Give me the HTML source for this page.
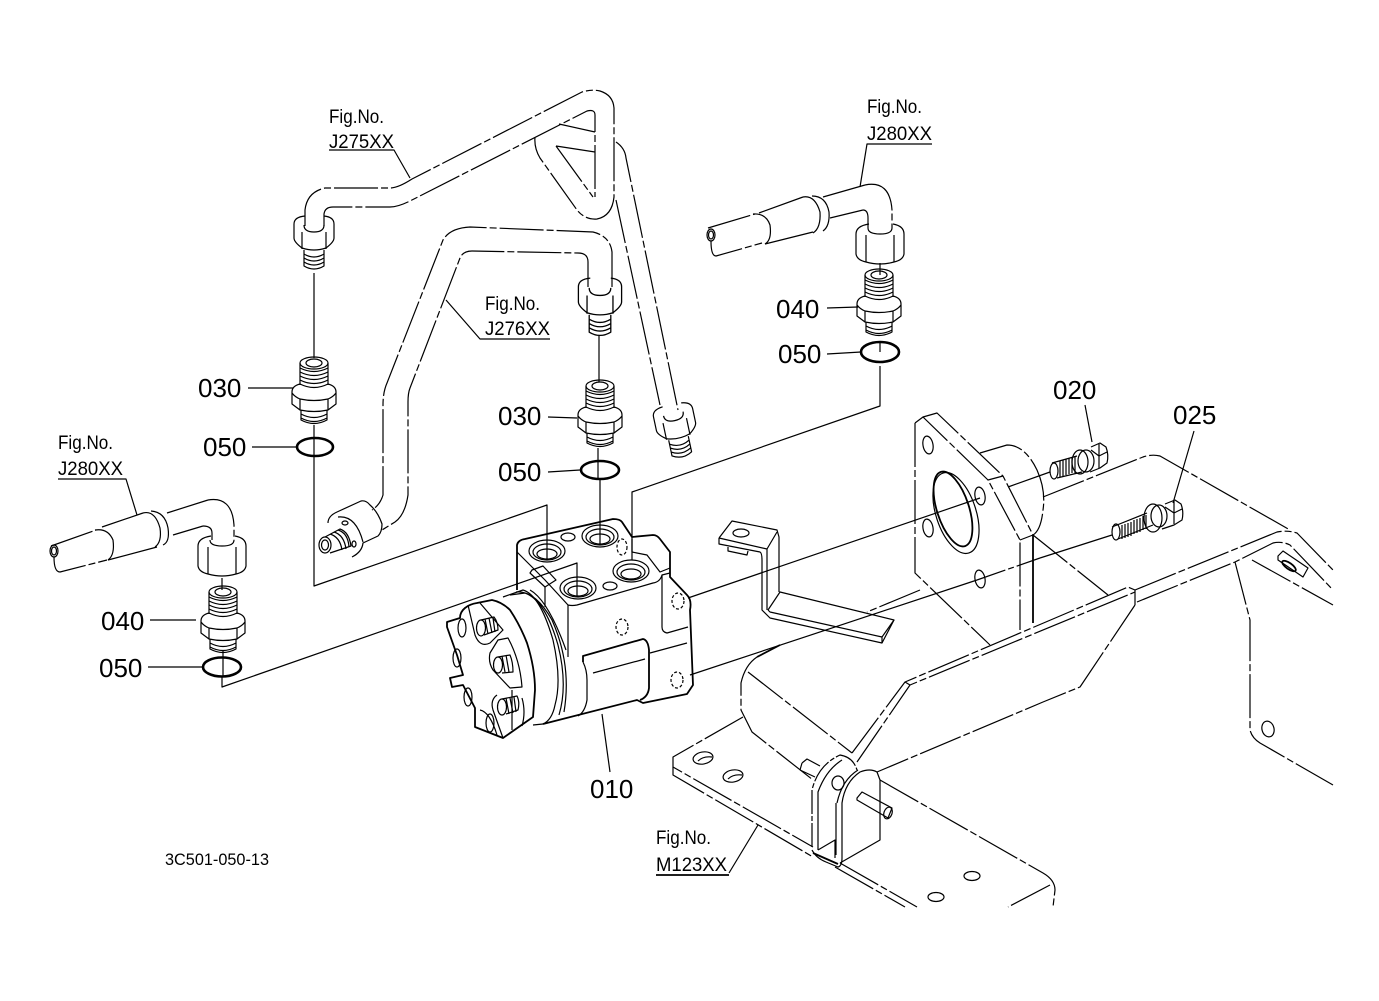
<!DOCTYPE html>
<html><head><meta charset="utf-8"><style>
html,body{margin:0;padding:0;background:#fff;width:1379px;height:1001px;overflow:hidden}
svg{display:block}
path,line,ellipse{fill:none;stroke:#000;stroke-width:1.2;stroke-linejoin:round}
.d{stroke-dasharray:44 3 7 3}
.k{stroke-width:1.8}
.r{stroke-width:2.6}
text{font-family:"Liberation Sans",sans-serif;fill:#000;stroke:none}
.f{font-size:19px}
.n{font-size:26px}
</style></head><body>
<svg width="1379" height="1001" viewBox="0 0 1379 1001" xmlns="http://www.w3.org/2000/svg">
<defs>
<g id="fit">
<path d="M-14 5V27M14 5V27"/>
<ellipse cx="0" cy="5" rx="14" ry="6"/>
<ellipse cx="0" cy="5" rx="8" ry="4"/>
<path d="M-14 10q14 7 28 0M-14 14q14 7 28 0M-14 18q14 7 28 0M-14 22q14 7 28 0M-14 26q14 7 28 0"/>
<path d="M-14 26q-8 2-8 8v12l8 6q14 3 28 0l8-6V34q0-6-8-8"/>
<path d="M-22 35q3 4 8 6q14 3 28 0q5-2 8-6M-14 41V52M14 41V52"/>
<path d="M-13 52V62q13 7 26 0V52M-13 56q13 7 26 0M-13 60q13 7 26 0"/>
</g>
<g id="nut">
<path d="M-9 2Q-20 3-20 10V24Q-20 28-12 34Q0 38 12 34Q20 28 20 24V10Q20 3 10 2"/>
<path d="M-10 11q0 7 10 7q10 0 10-7M-12 18V35M12 18V35"/>
<path d="M-10 36V52q10 6 20 0V36M-10 40q10 6 20 0M-10 44q10 6 20 0M-10 48q10 6 20 0"/>
</g>
<g id="elb">
<path d="M-11 2Q-24 4-24 12V32Q-23 38-14 40Q0 44 14 40Q23 38 24 32V12Q24 4 13 2"/>
<path d="M-12 6q0 6 12 6q12 0 12-6M-14 13V40M14 13V40"/>
</g>
</defs>

<!-- J275 pipe -->
<g>
<path class="d" d="M305 226V210Q307 192 325 188L390 188Q398 188 412 179L582 92Q592 89 600 91Q613 95 614 108V197Q612 216 597 219Q585 220 577 210L540 158Q534 148 535 137"/>
<path class="d" d="M324 226V214Q325 207 333 207L390 207Q398 207 410 201L587 111Q595 109 595 115V197"/>
<path class="d" d="M556 146L595 152M556 146L593 197"/>
<path d="M559 124L595 132"/>
<path class="d" d="M616 142Q625 148 626 158L678 410"/>
<path class="d" d="M616 200L660 405"/>
<g transform="translate(671,403) rotate(-12)"><use href="#nut"/></g>
<use href="#nut" x="314" y="214"/>
<path d="M314 273V358"/>
</g>

<!-- J276 pipe -->
<path class="d" d="M612 287V252Q610 236 593 232L470 227Q450 228 443 240L387 383Q383 392 383 405V495Q380 505 372 510"/>
<path class="d" d="M588 287V262Q588 253 578 253L472 251Q463 251 460 258L410 388Q408 393 408 402V495Q405 515 395 522L382 530"/>
<g transform="translate(600,276) scale(1.08)"><use href="#nut"/></g>
<path d="M599 335V382"/>
<g>
<path d="M328 523Q328 516 337 512L361 501Q366 500 370 505Q378 512 382 524Q382 532 378 536L363 543Q362 552 352 557"/>
<path d="M338 517Q356 515 363 542"/>
<ellipse cx="325" cy="545" rx="6" ry="8"/><ellipse cx="325" cy="545" rx="3.5" ry="5"/>
<path d="M325 537L340 529Q349 532 351 546L330 553M330 534Q340 537 342 550M334 532Q344 535 346 549M338 530Q348 533 349 547"/>
<ellipse cx="345" cy="523" rx="3" ry="2"/>
<ellipse cx="354" cy="544" rx="2" ry="3"/>
</g>

<!-- 030 / 050 fittings -->
<use href="#fit" x="314" y="358"/>
<ellipse class="r" cx="315" cy="447" rx="18" ry="9"/>
<path d="M314 425V462M314 462V586L547 505V560"/>
<use href="#fit" x="600" y="381"/>
<ellipse class="r" cx="600" cy="470" rx="19" ry="9"/>
<path d="M598 448V480M600 480V545"/>

<!-- right J280 -->
<g>
<ellipse cx="711" cy="235" rx="4" ry="6"/><ellipse cx="711" cy="235" rx="2.5" ry="4"/>
<path class="d" d="M708 228L755 214"/>
<path class="d" d="M711 241Q711 256 716 256L762 243"/>
<path d="M753 214Q766 213 770 225Q772 240 765 244"/>
<path d="M759 213L803 197M765 244L813 232"/>
<path d="M803 197Q815 195 820 212Q821 228 813 233M812 196Q826 196 829 212Q830 226 823 231"/>
<path d="M823 197L865 185"/>
<path class="d" d="M830 218L863 210"/>
<path class="d" d="M865 185Q890 180 892 210V228"/>
<path d="M863 210Q868 210 868 218V228"/>
<use href="#elb" x="880" y="222"/>
<path d="M880 263V275"/>
<use href="#fit" x="879" y="270"/>
<ellipse class="r" cx="880" cy="352" rx="19" ry="10"/>
<path d="M880 342V352M880 366V406L632 492V560"/>
</g>

<!-- left J280 -->
<g>
<ellipse cx="54" cy="551" rx="4" ry="6"/><ellipse cx="54" cy="551" rx="2.5" ry="4"/>
<path class="d" d="M51 546L96 530"/>
<path class="d" d="M54 557Q54 572 60 572L107 560"/>
<path d="M95 530Q108 528 113 540Q115 555 108 560"/>
<path d="M102 527L143 513M108 560L157 547"/>
<path d="M143 513Q155 510 160 528Q162 542 155 547M151 511Q165 512 168 528Q170 542 163 545"/>
<path d="M167 513L208 500"/>
<path class="d" d="M173 535L203 526"/>
<path class="d" d="M208 500Q232 496 234 525V540"/>
<path d="M203 526Q212 526 212 533V540"/>
<use href="#elb" x="222" y="534"/>
<path d="M222 578V590"/>
<use href="#fit" x="223" y="587"/>
<ellipse class="r" cx="222" cy="667" rx="19" ry="9.5"/>
<path d="M223 650V676M222 677V687L577 563V597"/>
</g>

<!-- motor -->
<g>
<path class="k" d="M517 590L517 552V545Q518 540 525 539L613 519Q620 519 622 522L632 537L653 535Q657 535 660 539L670 552V577L687 595Q692 600 690 610L693 685L687 694L643 703L637 700L543 724"/>
<path d="M517 552L545 580L568 605Q572 606 577 605L653 583Q660 582 662 575V627Q662 632 667 633L688 627"/>
<path d="M632 539V552L647 555L660 572L670 568M662 575L670 573"/>
<path d="M545 587V607M568 605V657"/>
<path d="M532 570L543 566L556 580L545 587L530 573Z"/>
<ellipse cx="547" cy="551" rx="18" ry="11"/><ellipse cx="547" cy="552" rx="14" ry="8"/><ellipse cx="547" cy="554" rx="10" ry="5"/>
<ellipse cx="600" cy="536" rx="18" ry="11"/><ellipse cx="600" cy="537" rx="14" ry="8"/><ellipse cx="600" cy="539" rx="10" ry="5"/>
<ellipse cx="578" cy="588" rx="18" ry="11"/><ellipse cx="578" cy="589" rx="14" ry="8"/><ellipse cx="578" cy="591" rx="10" ry="5"/>
<ellipse cx="631" cy="571" rx="18" ry="11"/><ellipse cx="631" cy="572" rx="14" ry="8"/><ellipse cx="631" cy="574" rx="10" ry="5"/>
<ellipse cx="568" cy="537" rx="7" ry="4"/>
<ellipse cx="610" cy="586" rx="7" ry="4"/>
<ellipse style="stroke-dasharray:3 2" cx="622" cy="547" rx="5" ry="8"/>
<ellipse style="stroke-dasharray:3 2" cx="622" cy="627" rx="6" ry="8"/>
<ellipse style="stroke-dasharray:3 2" cx="678" cy="601" rx="6" ry="8"/>
<ellipse style="stroke-dasharray:3 2" cx="677" cy="680" rx="6" ry="8"/>
<path class="k" d="M583 662V656L643 639Q648 640 649 650V688Q648 697 640 700"/>
<path d="M583 662Q587 670 587 680V700Q585 712 578 716"/>
<path d="M593 673L645 659M650 653L687 643"/>
<path class="k" d="M447 622L460 618Q460 612 465 608Q470 604 477 603L492 600Q502 602 510 610Q520 625 527 643Q535 668 535 690L533 717L503 738L475 727V708L463 685L452 687L450 678L463 675L457 655L447 627Z"/>
<path d="M503 597L523 590Q540 595 553 640Q562 680 555 705Q552 720 543 724L533 725"/>
<path d="M510 595L525 593Q545 600 558 645Q568 685 559 715M516 592Q535 590 552 620Q572 665 564 712M530 590Q548 600 566 650"/>
<path d="M468 605L475 635Q480 648 490 643L503 630L480 603"/>
<ellipse cx="481" cy="628" rx="4.5" ry="8"/>
<path d="M481 620L494 617Q498 622 498 630L484 635M485 619L488 634M489 618L492 633M493 618L495 632"/>
<path d="M498 640L490 653Q488 662 493 670L510 688L522 687Q520 660 508 638L498 640Z"/>
<ellipse cx="498" cy="665" rx="4.5" ry="8"/>
<path d="M498 657L510 655Q513 662 513 672L502 673M502 656L505 672M506 655L509 672"/>
<ellipse cx="502" cy="707" rx="4.5" ry="8"/>
<path d="M502 699L517 696Q520 702 518 710L506 714M506 698L509 714M510 698L513 713M514 697L516 712"/>
<path d="M497 695Q490 700 493 710L503 738"/><path d="M522 698Q526 712 522 726"/>
<path d="M512 690V730"/>
<ellipse cx="462" cy="628" rx="4" ry="9"/>
<ellipse cx="457" cy="658" rx="4" ry="9"/>
<ellipse cx="468" cy="697" rx="4" ry="9"/>
<ellipse cx="490" cy="723" rx="4" ry="9"/>
<path d="M480 710Q490 712 497 735"/>
<path d="M602 714L610 772"/>
</g>

<!-- bolt leaders through -->
<path d="M688 598L980 498M1008 487L1050 472"/>
<path d="M690 675L977 580"/>
<path class="d" style="stroke-dasharray:30 3 6 3" d="M977 580L1040 558"/>
<path d="M1040 558L1112 535"/>

<!-- bracket -->
<path d="M719 538L732 521L777 530L779 537V592M719 538V544L760 552Q762 553 762 560V610L770 618L882 643L894 620"/>
<path d="M719 538L767 549L777 532M767 549V610M768 610L770 612L882 637V643M882 637L894 620L780 592L768 610"/>
<path d="M728 547V551L747 555L748 551"/>
<ellipse cx="741" cy="533" rx="8" ry="4"/>

<!-- mounting plate -->
<g>
<path class="d" d="M915 423V573L990 645"/>
<path class="d" d="M915 423L923 417L988 480L1020 540V630"/>
<path class="d" d="M923 417L937 413L1003 476L1033 535"/>
<path class="d" d="M980 453L1007 445Q1025 445 1037 470Q1046 490 1043 510Q1041 530 1033 535L1020 540"/>
<path d="M988 480L1003 476"/>
<path class="k" d="M1033 535V623"/>
<path class="d" d="M920 590L867 612"/>
<path class="d" d="M1033 535L1108 595"/>
<ellipse cx="928" cy="445" rx="5" ry="9" transform="rotate(-10 928 445)"/>
<ellipse cx="980" cy="496" rx="5" ry="9" transform="rotate(-10 980 496)"/>
<ellipse cx="928" cy="528" rx="5" ry="9" transform="rotate(-10 928 528)"/>
<ellipse cx="980" cy="579" rx="5" ry="9" transform="rotate(-10 980 579)"/>
<ellipse cx="956" cy="513" rx="20" ry="42" transform="rotate(-18 956 513)"/>
<ellipse class="k" cx="953" cy="509" rx="16" ry="39" transform="rotate(-18 953 509)"/>
</g>

<!-- frame -->
<g>
<path class="k" d="M780 645L757 657"/>
<path class="d" d="M757 657Q745 665 741 683V710L752 732L813 780"/>
<path class="d" d="M748 672L852 753"/>
<path class="d" d="M852 753L905 682L1128 587L1135 590"/>
<path class="d" d="M857 762L910 685L1135 592"/>
<path d="M905 682L910 685"/>
<path d="M1135 590V605"/>
<path class="d" d="M1137 602L1235 562L1273 543Q1282 541 1290 545L1333 590"/>
<path class="d" d="M1135 590L1277 532Q1288 530 1297 533L1333 570"/>
<path class="d" d="M1135 605L1080 687L1043 702L877 772"/>
<path class="d" d="M1043 497L1143 457Q1152 454 1160 456L1290 530"/>
<path class="d" d="M1235 562L1250 620V730Q1252 738 1260 743L1333 785"/>
<path class="d" d="M1252 560L1333 605"/>
<ellipse cx="1268" cy="729" rx="6" ry="8" transform="rotate(-15 1268 729)"/>
<path d="M1278 556L1283 551L1308 568L1303 577L1278 560Z"/>
<ellipse class="k" cx="1289" cy="566" rx="8" ry="3" transform="rotate(35 1289 566)"/>
<!-- base plate -->
<path class="d" d="M743 717L673 757V767L813 847"/>
<path class="d" d="M673 767V775L813 857"/>
<path class="k" d="M813 853L838 864"/>
<path class="d" d="M840 863L917 907M835 867L905 907"/>
<path class="d" d="M880 780L1043 873Q1055 880 1055 890L1053 907"/>
<path class="d" d="M1050 885L1008 907"/>
<ellipse cx="703" cy="758" rx="10" ry="6" transform="rotate(-10 703 758)"/>
<path d="M698 761Q703 756 712 757"/>
<ellipse cx="733" cy="776" rx="10" ry="6" transform="rotate(-10 733 776)"/>
<path d="M728 779Q733 774 742 775"/>
<ellipse cx="972" cy="876" rx="8" ry="4.5"/>
<ellipse cx="936" cy="897" rx="8" ry="4.5"/>
<!-- clevis -->
<path class="d" style="stroke-dasharray:24 2 5 2" d="M812 847V790Q818 765 840 755Q853 757 857 770"/>
<path d="M818 850V792Q826 770 842 760M836 803V855"/>
<path d="M812 850Q816 858 826 862L838 867Q842 866 842 858V803Q845 782 860 772Q870 768 877 772L880 780V840L840 863"/>
<path d="M837 803Q842 780 858 770"/>
<path d="M818 850L835 840V858"/>
<path d="M857 798L862 792L892 808L888 818L857 800Z"/>
<ellipse cx="888" cy="813" rx="4" ry="6" transform="rotate(20 888 813)"/>
<path d="M802 763L807 759L820 766M800 770L815 777M800 770L802 763"/>
<ellipse cx="838" cy="783" rx="6" ry="7"/>
<path d="M758 825L729 873"/>
</g>

<!-- bolts -->
<g>
<path d="M1052 463L1077 456M1057 478L1082 472"/>
<ellipse cx="1054" cy="471" rx="4" ry="8"/>
<path d="M1060 461V477M1063 460V476M1066 459V475M1069 458V474M1072 457V473M1075 457V473"/>
<ellipse cx="1080" cy="462" rx="8" ry="12"/>
<ellipse cx="1086" cy="461" rx="8" ry="11"/>
<path d="M1091 447L1100 443L1106 447Q1109 455 1107 463L1100 468L1090 472"/>
<path d="M1099 444V468M1091 450L1099 456L1107 452"/>
<path d="M1112 527L1147 513M1118 539L1153 525"/>
<ellipse cx="1116" cy="532" rx="4" ry="8"/>
<path d="M1122 525V539M1125 524V538M1128 523V537M1131 522V536M1134 520V534M1137 519V533M1140 518V532M1143 516V530M1146 515V529"/>
<ellipse cx="1153" cy="518" rx="9" ry="14"/>
<ellipse cx="1159" cy="516" rx="8" ry="11"/>
<path d="M1165 504L1175 500L1181 504Q1184 512 1182 520L1174 525L1162 529"/>
<path d="M1174 501V524M1165 507L1174 513L1182 509"/>
<path d="M1085 405L1092 442M1194 431L1173 503"/>
</g>

<!-- Leaders -->
<path d="M329 150H394L410 178"/>
<path d="M446 300L480 339H550"/>
<path d="M932 144H867L860 187"/>
<path d="M58 479H126L137 515"/>
<path class="k" d="M656 875H729"/>
<path d="M248 388H293M252 447H296M548 417L577 418M548 472L580 470M827 308L858 307M827 354L861 352M150 620H196M148 667H203"/>

<!-- labels -->
<text class="f" x="329" y="123" textLength="55" lengthAdjust="spacingAndGlyphs">Fig.No.</text>
<text class="f" x="329" y="148" textLength="65" lengthAdjust="spacingAndGlyphs">J275XX</text>
<text class="f" x="485" y="310" textLength="55" lengthAdjust="spacingAndGlyphs">Fig.No.</text>
<text class="f" x="485" y="335" textLength="65" lengthAdjust="spacingAndGlyphs">J276XX</text>
<text class="f" x="867" y="113" textLength="55" lengthAdjust="spacingAndGlyphs">Fig.No.</text>
<text class="f" x="867" y="140" textLength="65" lengthAdjust="spacingAndGlyphs">J280XX</text>
<text class="f" x="58" y="449" textLength="55" lengthAdjust="spacingAndGlyphs">Fig.No.</text>
<text class="f" x="58" y="475" textLength="65" lengthAdjust="spacingAndGlyphs">J280XX</text>
<text class="f" x="656" y="844" textLength="55" lengthAdjust="spacingAndGlyphs">Fig.No.</text>
<text class="f" x="656" y="871" textLength="71" lengthAdjust="spacingAndGlyphs">M123XX</text>
<text class="n" x="198" y="397">030</text>
<text class="n" x="203" y="456">050</text>
<text class="n" x="498" y="425">030</text>
<text class="n" x="498" y="481">050</text>
<text class="n" x="776" y="318">040</text>
<text class="n" x="778" y="363">050</text>
<text class="n" x="101" y="630">040</text>
<text class="n" x="99" y="677">050</text>
<text class="n" x="590" y="798">010</text>
<text class="n" x="1053" y="399">020</text>
<text class="n" x="1173" y="424">025</text>
<text x="165" y="865" style="font-size:17px" textLength="104" lengthAdjust="spacingAndGlyphs">3C501-050-13</text>
</svg>
</body></html>
